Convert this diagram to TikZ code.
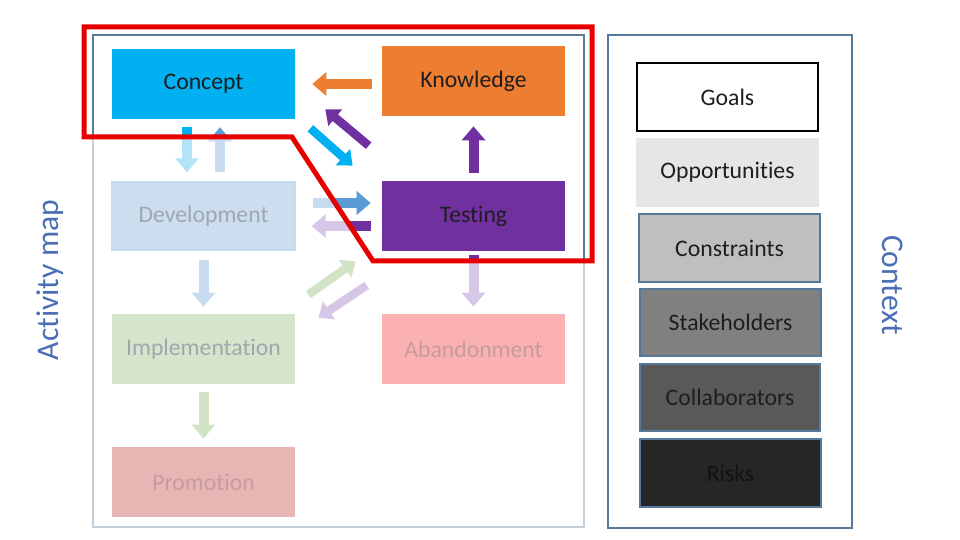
\documentclass[tikz,border=0pt]{standalone}
\usepackage{fontspec}
\setmainfont[Ligatures={NoCommon}]{Carlito}
\usetikzlibrary{arrows.meta,positioning,calc}
\definecolor{cyanfull}{HTML}{00B0F0}
\definecolor{orangefull}{HTML}{ED7D31}
\definecolor{purplefull}{HTML}{7030A0}
\definecolor{bluefull}{HTML}{5B9BD5}
\definecolor{cyanfade}{HTML}{B3E3F7}
\definecolor{bluefade}{HTML}{C7DAEE}
\definecolor{purplefade}{HTML}{D6C7E7}
\definecolor{greenfade}{HTML}{D3E3C6}
\definecolor{devfill}{HTML}{CCDDEF}
\definecolor{implfill}{HTML}{D6E4CB}
\definecolor{abandfill}{HTML}{FBB1B1}
\definecolor{promofill}{HTML}{E8B5B5}
\definecolor{fadetext}{HTML}{9FA7AF}
\definecolor{framelight}{HTML}{C3D0DA}
\definecolor{framedark}{HTML}{5B7A96}
\definecolor{ctxedge}{HTML}{55799A}
\definecolor{labelblue}{HTML}{4A6FB5}
\definecolor{spotred}{HTML}{E60000}
\definecolor{inktext}{HTML}{1E1E1E}

\begin{document}
\begin{tikzpicture}[x=0.02cm,y=-0.02cm,
    box/.style={minimum width=3.66cm,minimum height=1.4cm,inner sep=0pt,
      font=\fontsize{13.5}{15}\selectfont,text=inktext},
    ctxbox/.style={box,minimum width=3.62cm,minimum height=1.36cm,draw=ctxedge,line width=0.04cm},
    fat/.style={line width=0.2cm,-{Triangle[width=0.46cm,length=0.28cm]}},
    thin fat/.style={line width=0.17cm,-{Triangle[width=0.42cm,length=0.26cm]}},
    side/.style={font=\fontsize{18}{20}\selectfont,text=labelblue}]
    \useasboundingbox (0,0) rectangle (960,540);
    \draw[framelight,line width=0.04cm] (93,35) rectangle (584,527);
    \draw[ctxedge,line width=0.04cm] (608,35) rectangle (852,528);

    \node[box,fill=cyanfull] (concept) at (203.5,84) {Concept};
    \node[box,fill=orangefull] (know) at (473.5,81) {Knowledge};
    \node[box,fill=devfill,draw=bluefade,line width=0.03cm,text=fadetext,minimum height=1.36cm] (dev) at (203.5,216) {Development};
    \node[box,fill=purplefull] (test) at (473.5,216) {Testing};
    \node[box,fill=implfill,text=fadetext] (impl) at (203.5,349) {Implementation};
    \node[box,fill=abandfill,text={rgb,255:red,196;green,156;blue,156}] (aband) at (473.5,349) {Abandonment};
    \node[box,fill=promofill,text={rgb,255:red,200;green,156;blue,156}] (promo) at (203.5,482) {Promotion};

    \node[ctxbox,draw=black,fill=white] (goals) at (727.5,97) {Goals};
    \node[box,fill={rgb,255:red,230;green,230;blue,230},minimum width=3.66cm,minimum height=1.38cm] (opp) at (727.5,172.5) {Opportunities};
    \node[ctxbox,fill={rgb,255:red,191;green,191;blue,191}] (cons) at (729.5,248) {Constraints};
    \node[ctxbox,fill={rgb,255:red,128;green,128;blue,128}] (stake) at (730.5,322.5) {Stakeholders};
    \node[ctxbox,fill={rgb,255:red,89;green,89;blue,89}] (collab) at (730,397.5) {Collaborators};
    \node[ctxbox,fill={rgb,255:red,38;green,38;blue,38},text={rgb,255:red,18;green,18;blue,18}] (risks) at (730.5,473) {Risks};

    \node[side,rotate=90] (actlabel) at (50,280) {Activity map};
    \node[side,rotate=-90] (ctxlabel) at (893,285) {Context};

    \draw[fat,orangefull,shorten <=0.2cm,shorten >=0.34cm] (know.west |- concept.east) -- (concept.east);
    \draw[thin fat,cyanfull] ($(concept.south east)+(15,9)$) -- ($(test.north west)+(-29,-15)$);
    \draw[thin fat,purplefull] ($(test.north west)+(-13,-35)$) -- ($(concept.south east)+(30,-10)$);
    \draw[fat,purplefull,shorten <=0.16cm,shorten >=0.2cm] (test.north) -- (know.south);

    \draw[fat,cyanfade,shorten <=0.16cm,shorten >=0.18cm] ($(concept.south)+(-16.5,0)$) -- ($(dev.north)+(-16.5,0)$);
    \draw[fat,bluefade,shorten <=0.18cm,shorten >=0.16cm] ($(dev.north)+(16.5,0)$) -- ($(concept.south)+(16.5,0)$);
    \draw[fat,bluefade,shorten <=0.34cm,shorten >=0.22cm] ($(dev.east)+(0,-13)$) -- ($(test.west)+(0,-13)$);
    \draw[fat,purplefade,shorten <=0.22cm,shorten >=0.32cm] ($(test.west)+(0,10)$) -- ($(dev.east)+(0,10)$);
    \draw[thin fat,greenfade] ($(impl.north east)+(13,-19)$) -- ($(test.south west)+(-26,10)$);
    \draw[thin fat,purplefade] ($(test.south west)+(-15,34)$) -- ($(impl.north east)+(23,4)$);
    \draw[fat,purplefade,shorten <=0.08cm,shorten >=0.14cm] (test.south) -- (aband.north);
    \draw[fat,bluefade,shorten <=0.18cm,shorten >=0.14cm] (dev.south) -- (impl.north);
    \draw[fat,greenfade,shorten <=0.16cm,shorten >=0.16cm] (impl.south) -- (promo.north);

    \begin{scope}
      \clip (84,27) -- (592,27) -- (592,261) -- (373,261) -- (292,137) -- (84,137) -- cycle;
      \draw[framedark,line width=0.04cm] (93,35) rectangle (584,527);
      \draw[fat,cyanfull,shorten <=0.16cm,shorten >=0.18cm] ($(concept.south)+(-16.5,0)$) -- ($(dev.north)+(-16.5,0)$);
      \draw[fat,bluefull,shorten <=0.18cm,shorten >=0.16cm] ($(dev.north)+(16.5,0)$) -- ($(concept.south)+(16.5,0)$);
      \draw[fat,bluefull,shorten <=0.34cm,shorten >=0.22cm] ($(dev.east)+(0,-13)$) -- ($(test.west)+(0,-13)$);
      \draw[fat,purplefull,shorten <=0.22cm,shorten >=0.32cm] ($(test.west)+(0,10)$) -- ($(dev.east)+(0,10)$);
      \draw[fat,purplefull,shorten <=0.08cm,shorten >=0.14cm] (test.south) -- (aband.north);
    \end{scope}

    \draw[spotred,line width=0.1cm,line join=miter] (84,27) -- (592,27) -- (592,261) -- (373,261) -- (292,137) -- (84,137) -- cycle;
\end{tikzpicture}
\end{document}
